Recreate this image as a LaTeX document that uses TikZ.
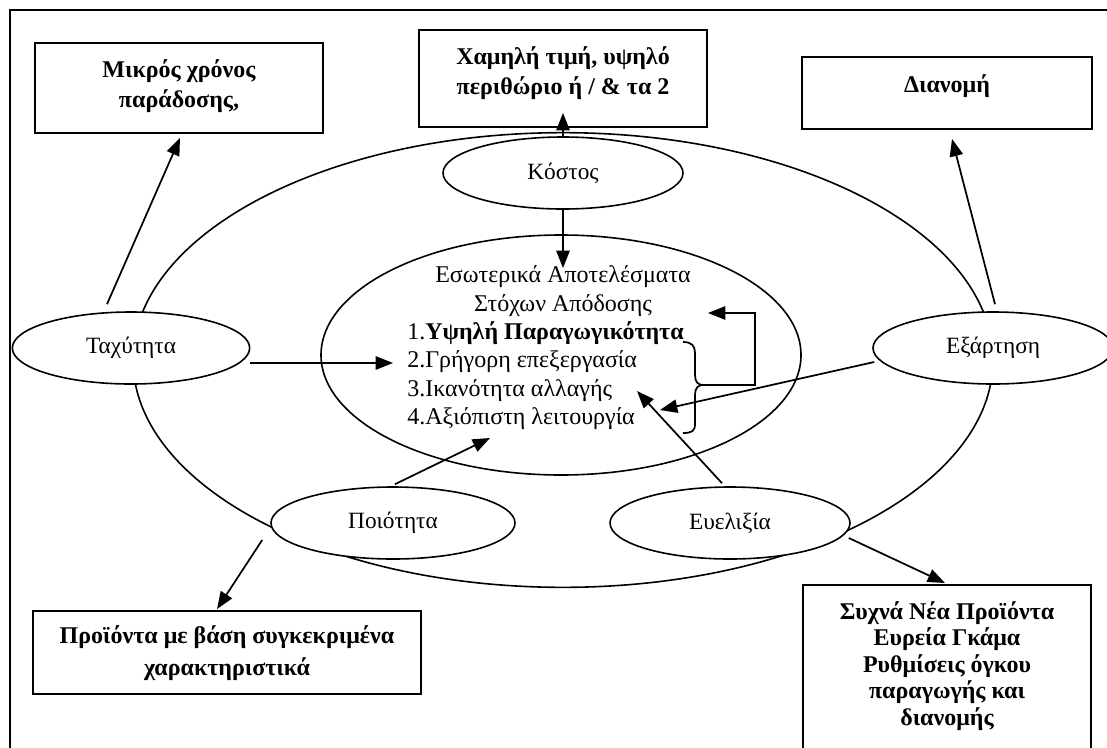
\documentclass[tikz,border=0pt]{standalone}
\usepackage{fontspec}
\setmainfont{Liberation Serif}
\usetikzlibrary{arrows.meta,shapes.geometric,calc}

\begin{document}
\begin{tikzpicture}[x=0.75pt,y=-0.75pt,
  txt/.style={font=\fontsize{18}{21}\selectfont, inner sep=0pt},
  boxtxt/.style={font=\fontsize{18}{22.5}\bfseries\selectfont, inner sep=0pt, align=center, anchor=base},
  box/.style={draw, line width=1.4pt, inner sep=0pt},
  oval/.style={draw, ellipse, line width=1.2pt, inner sep=0pt, font=\fontsize{17.5}{21}\selectfont},
  arr/.style={line width=1.3pt, -{Triangle[length=13pt,width=10pt]}},
  lin/.style={line width=1.3pt}]
\clip (0,0) rectangle (1107,747);
\fill[white] (0,0) rectangle (1107,747);

% page frame
\draw[lin] (10,10) rectangle (1200,800);

% outer and inner rings
\node[oval, minimum width=645pt, minimum height=341pt] (outer) at (563,360) {};
\node[oval, minimum width=360pt, minimum height=180pt] (inner) at (561,355) {};

% result boxes (text anchored at the baseline of its last line)
\node[box, minimum width=216pt, minimum height=67.5pt] (b1) at (179,88) {};
\node[boxtxt] (b1t) at (179,107) {Μικρός χρόνος\\παράδοσης,};
\node[box, minimum width=216pt, minimum height=72.75pt] (b2) at (563,78.5) {};
\node[boxtxt] (b2t) at (563,94) {Χαμηλή τιμή, υψηλό\\περιθώριο ή / \& τα 2};
\node[box, minimum width=217.5pt, minimum height=54pt] (b3) at (947,93) {};
\node[boxtxt] (b3t) at (947,92) {Διανομή};
\node[box, minimum width=291pt, minimum height=62.25pt] (b4) at (227,652.5) {};
\node[boxtxt, font=\fontsize{18}{24}\bfseries\selectfont] (b4t) at (227,675) {Προϊόντα με βάση συγκεκριμένα\\χαρακτηριστικά};
\node[box, minimum width=216pt, minimum height=150pt, anchor=north] (b5) at (947,584) {};
\node[boxtxt, font=\fontsize{18}{19.8}\bfseries\selectfont] (b5t) at (947,725) {Συχνά Νέα Προϊόντα\\Ευρεία Γκάμα\\Ρυθμίσεις όγκου\\παραγωγής και\\διανομής};

% performance dimensions
\node[oval, fill=white, minimum width=180pt, minimum height=54pt] (kos) at (563,173) {Κόστος};
\node[oval, fill=white, minimum width=178pt, minimum height=54pt] (tax) at (131,348) {Ταχύτητα};
\node[oval, fill=white, minimum width=180pt, minimum height=54pt] (exa) at (993,348) {Εξάρτηση};
\node[oval, fill=white, minimum width=183pt, minimum height=54pt] (poi) at (393,523) {Ποιότητα};
\node[oval, fill=white, minimum width=180pt, minimum height=54pt] (eve) at (730,523) {Ευελιξία};

% internal targets
\node[txt, anchor=base] (t1) at (563,282) {Εσωτερικά Αποτελέσματα};
\node[txt, anchor=base] (t2) at (563,311) {Στόχων Απόδοσης};
\node[txt, anchor=base west] (i1) at (407,339) {1.\textbf{Υψηλή Παραγωγικότητα}};
\node[txt, anchor=base west] (i2) at (407,367) {2.Γρήγορη επεξεργασία};
\node[txt, anchor=base west] (i3) at (407,396) {3.Ικανότητα αλλαγής};
\node[txt, anchor=base west] (i4) at (407,424) {4.Αξιόπιστη λειτουργία};

% brace grouping the four targets
\draw[lin] (683,342) .. controls (692,342) and (695,346) .. (695,353) -- (695,375)
  .. controls (695,382) and (698,385) .. (703,385)
  .. controls (698,385) and (695,388) .. (695,395) -- (695,424)
  .. controls (695,431) and (692,433) .. (683,433);
\coordinate (brtip) at (703,385);
\coordinate (loopend) at (708,313);
\coordinate (bracein) at (660,410);
\draw[arr] (brtip) -- ++(52,0) |- (loopend);

% connectors
\draw[arr] ($(tax.north)+(-24,-7)$) -- ($(b1.south)+(1,4)$);
\draw[arr] (kos.north) -- ($(b2.south)+(0,-15)$);
\draw[arr] ($(exa.north)+(2,-7)$) -- ($(b3.south)+(5,9)$);
\draw[arr] (kos.south) -- ($(t1.base)+(0,-14)$);
\draw[arr] ($(tax.east)+(0,15)$) -- ($(i2.base west)+(-14,-4)$);
\draw[arr] ($(exa.west)+(2,14)$) -- (bracein);
\draw[arr] ($(eve.north)+(-8,-3)$) -- ($(i3.base west)+(230,-5)$);
\draw[arr] ($(poi.north)+(2,-2)$) -- ($(i4.base west)+(83,14)$);
\draw[arr] ($(poi.west)+(-8,17)$) -- ($(b4.north)+(-10,-1)$);
\draw[arr] ($(eve.east)+(-2,15)$) -- ($(b5.north)+(-2,-1)$);
\end{tikzpicture}
\end{document}
